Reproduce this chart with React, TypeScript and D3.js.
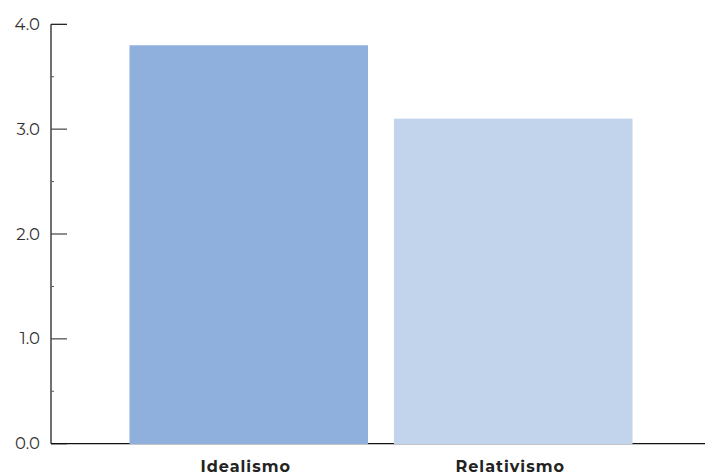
import React from "react";
import * as d3 from "d3";

const categories = ["Idealismo", "Relativismo"];
const values = [3.8, 3.1];
const tickValues = [0, 1, 2, 3, 4];
const tickLabels = ["0.0", "1.0", "2.0", "3.0", "4.0"];
const minorTicks = [0.5, 1.5, 2.5, 3.5];
const colors = ["#8fb0dc", "#c2d3ec"];

export default function App() {
  const W = 705, H = 475;
  const axisX = 51;
  const y = d3.scaleLinear().domain([0, 4]).range([443.7, 24.3]);
  const x = d3.scaleBand<string>().domain(categories).range([axisX, 711]).paddingInner(0.098).paddingOuter(0.2967);
  const font = "'Montserrat', 'Lato', 'Open Sans', sans-serif";
  return (
    <svg width={W} height={H} style={{ position: "absolute", left: 0, top: 0, background: "#fff" }}>
      <line x1={axisX} x2={705} y1={y(0)} y2={y(0)} stroke="#111" strokeWidth={1.2} />
      {categories.map((c, i) => (
        <rect key={c} x={x(c)} y={y(values[i])} width={x.bandwidth()} height={y(0) - y(values[i]) + 0.3} fill={colors[i]} />
      ))}
      <line x1={axisX} x2={axisX} y1={y(4)} y2={y(0)} stroke="#111" strokeWidth={1.2} />
      {tickValues.map((t, i) => (
        <g key={t}>
          <line x1={axisX} x2={axisX + 16} y1={y(t)} y2={y(t)} stroke={t === 4 || t === 0 ? "#111" : "#444"} strokeWidth={1.2} />
          <text x={40} y={y(t) + 5.5} textAnchor="end" fontFamily={font} fontSize={16.5} fill="#333">{tickLabels[i]}</text>
        </g>
      ))}
      {minorTicks.map((t) => (
        <line key={t} x1={axisX} x2={axisX + 3} y1={y(t)} y2={y(t)} stroke="#555" strokeWidth={1} />
      ))}
      {categories.map((c) => (
        <text key={c} x={x(c)! + x.bandwidth() / 2 - 3} y={472} textAnchor="middle" fontFamily={font} fontWeight="bold" fontSize={16} letterSpacing={1} fill="#222">{c}</text>
      ))}
    </svg>
  );
}
